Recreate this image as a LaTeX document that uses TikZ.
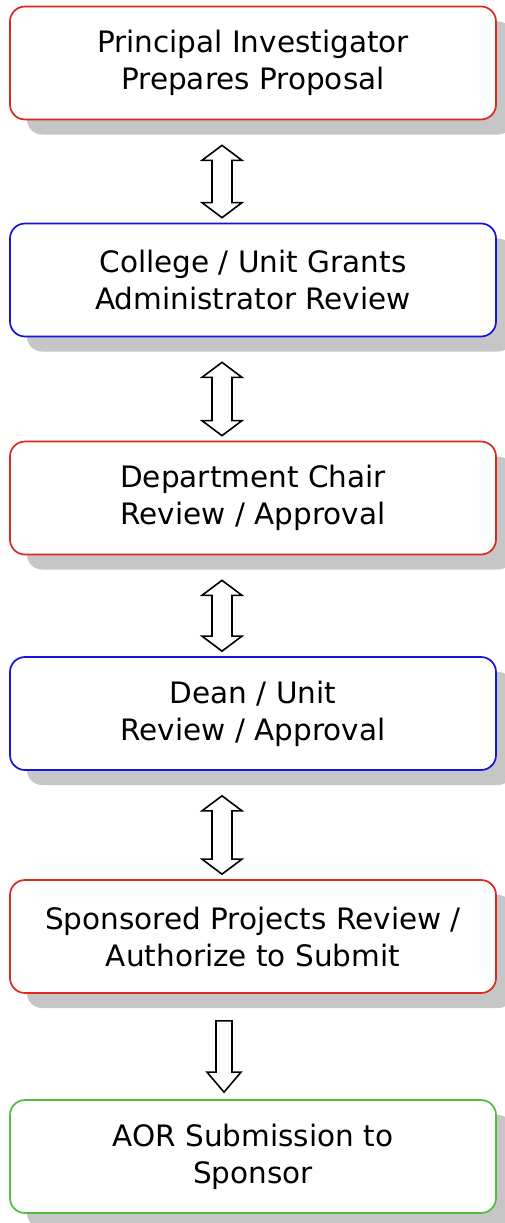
\documentclass[tikz,border=0pt]{standalone}
\usepackage{fontspec}
\setmainfont{DejaVu Sans}
\usepackage{tikz}
\usetikzlibrary{calc,shadows}
\definecolor{boxred}{RGB}{222,40,28}
\definecolor{boxblue}{RGB}{20,20,225}
\definecolor{boxgreen}{RGB}{80,190,60}
\definecolor{shade}{RGB}{198,198,198}
\tikzset{
  stage/.style={draw=#1,line width=1.7pt,fill=white,rounded corners=15pt,
    minimum width=486pt,minimum height=113pt,align=center,
    font=\fontsize{29.5}{37}\selectfont,
    drop shadow={shadow xshift=17pt,shadow yshift=-15pt,fill=shade,opacity=1}},
  blockarrow/.style={draw,line width=1.6pt,fill=white}
}
% double block arrow between two stages
\def\DA#1#2{\draw [blockarrow] ($(#1.south)+(-31,25)$) coordinate (t)
  -- ++(20,15) -- ++(-10,0) -- ($(#2.north)+(-21,-20)$) -- ++(10,0)
  -- ++(-20,15) coordinate (b) -- ++(-20,-15) -- ++(10,0)
  -- ($(t)+(-10,15)$) -- ++(-10,0) -- cycle;}
% single block arrow
\def\SA#1#2{\draw [blockarrow] ($(#1.south)+(-37,27)$) -- ++(16,0)
  -- ($(#2.north)+(-21,-27)$) -- ++(9,0) -- ++(-17,20) -- ++(-17,-20)
  -- ++(9,0) -- cycle;}

\begin{document}
\begin{tikzpicture}[x=1pt,y=-1pt]
\useasboundingbox (0,0) rectangle (504,1223);
\node [stage=boxred] (pi) at (253,63) {Principal Investigator\\Prepares Proposal};
\node [stage=boxblue] (cug) at (253,280) {College / Unit Grants\\Administrator Review};
\node [stage=boxred] (chair) at (253,498) {Department Chair\\Review / Approval};
\node [stage=boxblue] (dean) at (253,713.5) {Dean / Unit\\Review / Approval};
\node [stage=boxred] (spr) at (253,936.5) {Sponsored Projects Review /\\Authorize to Submit};
\node [stage=boxgreen] (aor) at (253,1156.5) {AOR Submission to\\Sponsor};
\DA{pi}{cug}
\DA{cug}{chair}
\DA{chair}{dean}
\DA{dean}{spr}
\SA{spr}{aor}
\end{tikzpicture}
\end{document}
